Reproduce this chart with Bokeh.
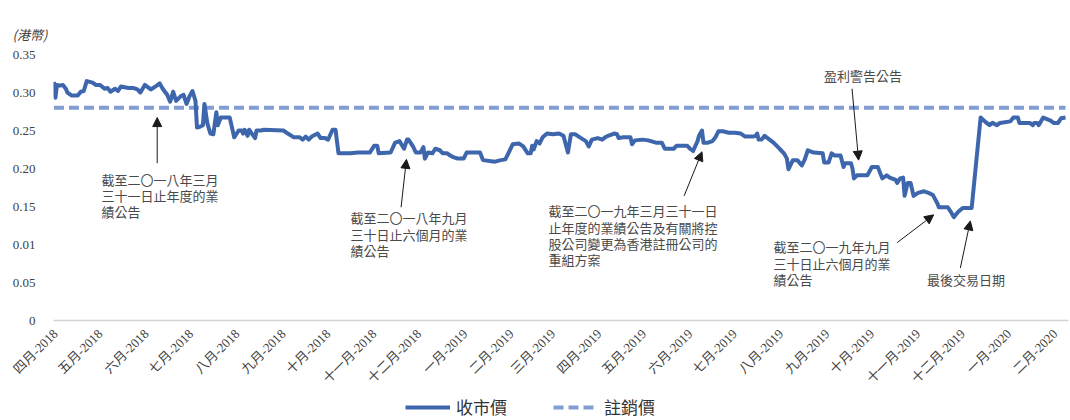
import pandas as pd
from bokeh.plotting import figure
from bokeh.layouts import column
from bokeh.models import (Range1d, FixedTicker, Label, Arrow, NormalHead,
                          Legend, LegendItem, Title)
from bokeh.embed import file_html
from bokeh.resources import INLINE

# ---------------- data ----------------
start_date = "2018-04-01"          # trade_day counts days from this date

trade_day = [
    -1, 0, 1, 3, 5, 7, 8, 11, 15, 17, 19, 21, 25, 27, 30, 33, 35, 37, 40, 42,
    44, 49, 52, 55, 57, 60, 64, 68, 70, 72, 75, 77, 79, 81, 84, 86, 88, 90, 92, 94,
    95, 97, 99, 100, 102, 104, 106, 108, 109, 111, 117, 120, 123, 125, 126, 127, 129, 130, 134, 135,
    138, 140, 153, 156, 160, 164, 166,
    168, 170, 172, 176, 178, 181, 183, 186, 188, 190, 198, 203, 211, 214, 216, 217, 225, 228, 231, 234,
    236, 237, 240, 242, 245, 247, 248, 250, 253, 255, 258, 260, 263, 265, 267, 270, 274, 276, 285, 287,
    295, 299, 302, 304, 307, 311, 314, 317, 319, 320, 321, 323, 325, 327, 330, 334, 338,
    341, 344, 346, 349, 352, 356, 358, 360, 364, 367, 369, 371, 375, 377, 378, 381, 386, 387, 389, 394,
    398, 403, 407, 409, 415, 417, 424, 426, 428, 431, 432, 434, 435, 438, 441, 443, 445, 448, 452, 456,
    460, 463, 468, 470, 471, 472, 474, 476, 478, 482, 485, 487, 489, 491, 492, 495, 498, 501, 503, 505, 509,
    515, 516, 519, 521, 523, 527, 529, 530, 534, 535, 536, 538, 545, 548, 552, 555, 558, 560, 564, 565,
    567, 569, 570, 572, 574, 576, 579, 583, 586, 589, 592, 593, 599, 601, 603, 606, 609, 615,
    621, 625, 627, 629, 632, 634, 641, 643, 646, 647, 654, 656, 657, 659, 660, 663, 668, 670, 673, 675, 678,
]

close_price = [
    0.314, 0.293, 0.310, 0.309, 0.310, 0.305, 0.300, 0.296, 0.296, 0.301, 0.302, 0.315, 0.313, 0.310, 0.310, 0.305, 0.306, 0.301, 0.305, 0.302,
    0.308, 0.306, 0.306, 0.304, 0.300, 0.310, 0.304, 0.309, 0.312, 0.305, 0.297, 0.288, 0.301, 0.289, 0.295, 0.297, 0.285, 0.295, 0.302, 0.289,
    0.254, 0.255, 0.257, 0.285, 0.259, 0.246, 0.245, 0.274, 0.257, 0.267, 0.267, 0.241, 0.250, 0.250, 0.246, 0.251, 0.243, 0.251, 0.240, 0.250,
    0.250, 0.251, 0.250, 0.246, 0.241, 0.241, 0.238,
    0.242, 0.238, 0.242, 0.246, 0.240, 0.240, 0.238, 0.251, 0.251, 0.220, 0.220, 0.221, 0.221, 0.230, 0.230, 0.220, 0.221, 0.234, 0.236, 0.226,
    0.238, 0.238, 0.229, 0.221, 0.221, 0.228, 0.213, 0.221, 0.220, 0.226, 0.224, 0.220, 0.220, 0.217, 0.215, 0.213, 0.213, 0.221, 0.221, 0.211,
    0.209, 0.211, 0.212, 0.220, 0.232, 0.233, 0.229, 0.220, 0.220, 0.230, 0.225, 0.236, 0.233, 0.241, 0.246, 0.245, 0.246,
    0.243, 0.221, 0.245, 0.245, 0.241, 0.236, 0.229, 0.238, 0.240, 0.238, 0.241, 0.243, 0.246, 0.245, 0.240, 0.241, 0.241, 0.232, 0.237, 0.238,
    0.237, 0.234, 0.234, 0.226, 0.226, 0.230, 0.230, 0.226, 0.223, 0.236, 0.243, 0.250, 0.234, 0.234, 0.236, 0.241, 0.249, 0.249, 0.247, 0.247,
    0.246, 0.242, 0.242, 0.243, 0.246, 0.238, 0.238, 0.243, 0.240, 0.234, 0.228, 0.224, 0.220, 0.213, 0.199, 0.211, 0.211, 0.204, 0.212, 0.224, 0.221,
    0.220, 0.208, 0.208, 0.220, 0.217, 0.217, 0.202, 0.207, 0.207, 0.200, 0.187, 0.191, 0.191, 0.202, 0.202, 0.187, 0.191, 0.188, 0.185, 0.181,
    0.187, 0.188, 0.164, 0.181, 0.181, 0.164, 0.168, 0.170, 0.168, 0.165, 0.154, 0.149, 0.149, 0.143, 0.136, 0.143, 0.148, 0.148,
    0.267, 0.260, 0.257, 0.260, 0.257, 0.260, 0.262, 0.267, 0.267, 0.260, 0.260, 0.257, 0.260, 0.260, 0.257, 0.267, 0.263, 0.260, 0.260, 0.266, 0.267,
]

cancel_price = 0.28

tick_dates = ["2018-04-01", "2018-05-01", "2018-06-01", "2018-07-01", "2018-08-01", "2018-09-01",
              "2018-10-01", "2018-11-01", "2018-12-01", "2019-01-01", "2019-02-01", "2019-03-01",
              "2019-04-01", "2019-05-01", "2019-06-01", "2019-07-01", "2019-08-01", "2019-09-01",
              "2019-10-01", "2019-11-01", "2019-12-01", "2020-01-01", "2020-02-01"]
tick_labels = ["四月-2018", "五月-2018", "六月-2018", "七月-2018", "八月-2018", "九月-2018",
               "十月-2018", "十一月-2018", "十二月-2018", "一月-2019", "二月-2019", "三月-2019",
               "四月-2019", "五月-2019", "六月-2019", "七月-2019", "八月-2019", "九月-2019",
               "十月-2019", "十一月-2019", "十二月-2019", "一月-2020", "二月-2020"]

y_ticks = [0, 0.05, 0.10, 0.15, 0.20, 0.25, 0.30, 0.35]
y_tick_labels = ["0", "0.05", "0.01", "0.15", "0.20", "0.25", "0.30", "0.35"]

series_names = ["收市價", "註銷價"]
unit_label = "(港幣)"

# ---------------- styles ----------------
CLOSE_COLOR = "#3d66ad"
CANCEL_COLOR = "#819dd4"
TEXT_COLOR = "#404040"
NOTE_COLOR = "#4a4a4a"
ARROW_COLOR = "#1a1a1a"
SERIF = "Liberation Serif, Noto Sans CJK TC"
CJK = "Noto Sans CJK TC"
CLOSE_STYLE = dict(line_color=CLOSE_COLOR, line_width=4)
CANCEL_STYLE = dict(line_color=CANCEL_COLOR, line_width=4, line_dash="10 5")

t0 = pd.Timestamp(start_date)
tick_days = [(pd.Timestamp(d) - t0).days for d in tick_dates]

p = figure(width=1070, height=394, output_backend="svg", toolbar_location=None,
           title=None,
           x_range=Range1d(-1.3, 680), y_range=Range1d(0, 0.35),
           min_border_left=53, min_border_right=2, min_border_top=54, min_border_bottom=73)
p.outline_line_color = None
p.grid.grid_line_color = None
p.background_fill_color = "white"

# unit label: an empty spacer title next to the frame, the real text above it
p.add_layout(Title(text="", standoff=16, text_font_size="1px"), "above")
p.add_layout(Title(text=unit_label, align="left", offset=-41, standoff=18,
                   vertical_align="top",
                   text_font=CJK, text_font_size="13px", text_font_style="italic",
                   text_color=TEXT_COLOR), "above")

# x axis
xa = p.xaxis[0]
xa.ticker = FixedTicker(ticks=tick_days)
xa.major_label_overrides = {d: lab for d, lab in zip(tick_days, tick_labels)}
xa.major_label_orientation = 0.7854
xa.major_tick_out = 0
xa.major_tick_in = 0
xa.minor_tick_out = 0
xa.minor_tick_in = 0
xa.major_tick_line_color = None
xa.minor_tick_line_color = None
xa.axis_line_color = "#d4d4d4"
xa.axis_line_width = 1.5
xa.major_label_text_font = SERIF
xa.major_label_text_font_size = "13px"
xa.major_label_text_color = TEXT_COLOR
xa.major_label_standoff = 11

# y axis
ya = p.yaxis[0]
ya.ticker = FixedTicker(ticks=y_ticks)
ya.major_label_overrides = {t: lab for t, lab in zip(y_ticks, y_tick_labels)}
ya.major_tick_line_color = None
ya.minor_tick_line_color = None
ya.axis_line_color = None
ya.major_label_text_font = "Liberation Serif"
ya.major_label_text_font_size = "13px"
ya.major_label_text_color = TEXT_COLOR
ya.major_label_standoff = 12

p.line([trade_day[0], trade_day[-1]], [cancel_price, cancel_price], **CANCEL_STYLE)
p.line(trade_day, close_price, line_join="round", **CLOSE_STYLE)

# annotations: (x_day, [line prices], lines, align)
notes = [
    (31, [0.186, 0.164, 0.143], ["截至二〇一八年三月", "三十一日止年度的業", "績公告"], "left"),
    (198, [0.135, 0.113, 0.092], ["截至二〇一八年九月", "三十日止六個月的業", "績公告"], "left"),
    (331, [0.145, 0.123, 0.101, 0.080], ["截至二〇一九年三月三十一日", "止年度的業績公告及有關將控",
                                         "股公司變更為香港註冊公司的", "重組方案"], "left"),
    (542, [0.322], ["盈利警告公告"], "center"),
    (482, [0.097, 0.0755, 0.054], ["截至二〇一九年九月", "三十日止六個月的業", "績公告"], "left"),
    (585, [0.054], ["最後交易日期"], "left"),
]
for x, ys, lines, align in notes:
    for yy, line in zip(ys, lines):
        p.add_layout(Label(x=x, y=yy, text=line, text_font=CJK, text_font_size="13px",
                           text_color=NOTE_COLOR, text_baseline="middle", text_align=align))

arrows = [
    (68.3, 0.207, 68.3, 0.267),
    (232, 0.149, 235.6, 0.212),
    (422, 0.164, 434, 0.222),
    (534.7, 0.305, 539.1, 0.211),
    (565, 0.1025, 589.5, 0.139),
    (607.4, 0.069, 614.1, 0.131),
]
for xs, ys0, xe, ye in arrows:
    p.add_layout(Arrow(x_start=xs, y_start=ys0, x_end=xe, y_end=ye,
                       line_color=ARROW_COLOR, line_width=1,
                       end=NormalHead(size=9, fill_color=ARROW_COLOR, line_color=ARROW_COLOR)))

# legend strip below the chart (its frame is aligned with the chart frame)
q = figure(width=1070, height=26, output_backend="svg", toolbar_location=None,
           x_range=Range1d(0, 1), y_range=Range1d(0, 1),
           x_axis_location=None, y_axis_location=None,
           min_border_left=53, min_border_right=2, min_border_top=0, min_border_bottom=0)
q.outline_line_color = None
q.grid.grid_line_color = None
lr_close = q.line([5, 6], [5, 6], **CLOSE_STYLE)      # off-range: legend glyph only
lr_cancel = q.line([5, 6], [5, 6], **CANCEL_STYLE)
legend = Legend(items=[LegendItem(label=series_names[0], renderers=[lr_close]),
                       LegendItem(label=series_names[1], renderers=[lr_cancel])],
                orientation="horizontal", location=(352, 1))
legend.border_line_color = None
legend.background_fill_alpha = 0
legend.padding = 0
legend.margin = 0
legend.glyph_width = 45
legend.glyph_height = 22
legend.label_height = 22
legend.label_standoff = 6
legend.spacing = 46
legend.label_text_font = CJK
legend.label_text_font_size = "17px"
legend.label_text_color = "#333333"
q.add_layout(legend, "center")

layout = column(p, q, spacing=0)
open("out.html", "w").write(file_html(layout, INLINE))
